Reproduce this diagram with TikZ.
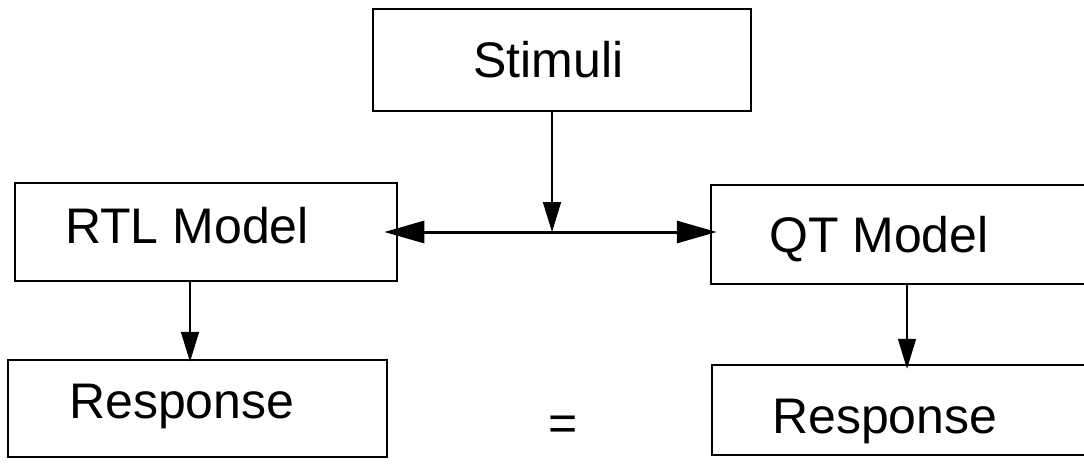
\documentclass[tikz,border=0pt]{standalone}
\usepackage{fontspec}
\setmainfont{Liberation Sans}
\usetikzlibrary{arrows.meta}
\begin{document}
\begin{tikzpicture}[x=1pt,y=-1pt,
  box/.style={draw=black, line width=2.5pt, inner sep=0pt, rectangle},
  lbl/.style={inner sep=0pt, anchor=base west, font=\fontsize{50}{60}\selectfont},
  varrow/.style={line width=1.6pt, -{Triangle[length=30pt,width=18pt]}},
  harrow/.style={line width=3pt, {Triangle[length=40pt,width=22pt]}-{Triangle[length=40pt,width=22pt]}}]
\useasboundingbox (0,0) rectangle (1084,464);
\clip (0,0) rectangle (1084,464);
\fill[white] (0,0) rectangle (1084,464);
% boxes
\node[box, minimum width=378pt, minimum height=102pt] (stim) at (562,60) {};
\node[box, minimum width=382pt, minimum height=98pt] (rtl) at (206,232) {};
\node[box, minimum width=392pt, minimum height=99pt] (qt) at (907,234.5) {};
\node[box, minimum width=379pt, minimum height=97pt] (respL) at (197.5,408.5) {};
\node[box, minimum width=391pt, minimum height=90pt] (respR) at (907.5,410) {};
% texts
\node[lbl] (tstim) at (473,77) {Stimuli};
\node[lbl] (trtl) at (65,243) {RTL Model};
\node[lbl] (tqt) at (769,252) {QT Model};
\node[lbl] (trespL) at (69,418) {Response};
\node[lbl] (trespR) at (772,433) {Response};
\node[lbl, anchor=base] (eq) at (563,440) {=};
% connectors
\coordinate (j) at (552,232);
\draw[varrow] (stim.south -| j) -- (j);
\draw[harrow, shorten <=-14pt, shorten >=-7pt] (rtl.east |- j) -- (qt.west |- j);
\draw[varrow, shorten >=-3pt] ([xshift=-16pt]rtl.south) -- ([xshift=-16pt]rtl.south |- respL.north);
\draw[varrow, shorten >=-5pt] (qt.south) -- (qt.south |- respR.north);
\end{tikzpicture}
\end{document}
